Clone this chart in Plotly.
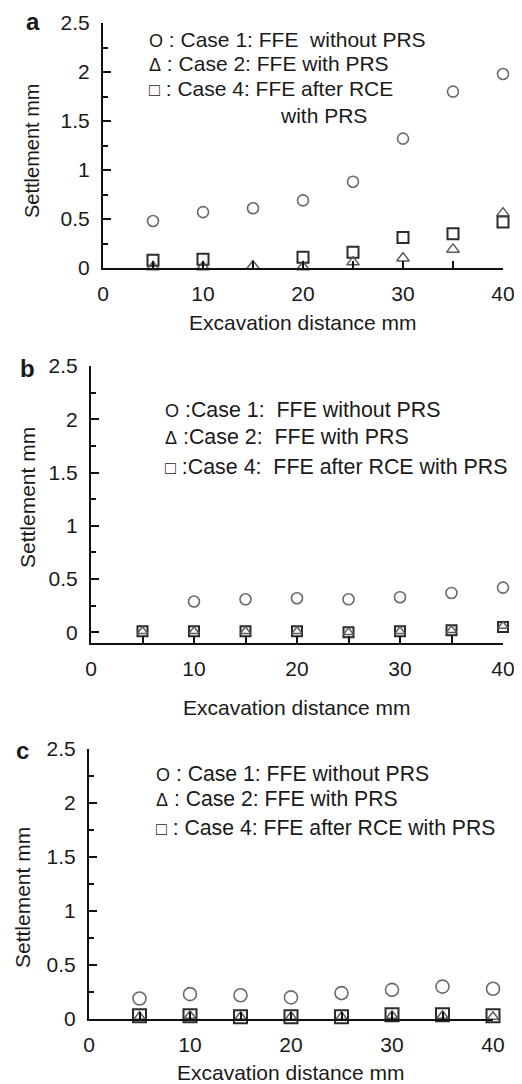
import plotly.graph_objects as go

# page body has an 8px default margin; the figure is sized and laid out so that
# page pixel coordinates match the reference picture
OFF = 8
W, H = 522 - OFF, 1084 - OFF

# ---------------- data ----------------
distance = [5, 10, 15, 20, 25, 30, 35, 40]

# panel a
a_case1 = [0.48, 0.57, 0.61, 0.69, 0.88, 1.32, 1.80, 1.98]
a_case2 = [0.01, 0.01, 0.02, 0.01, 0.06, 0.10, 0.19, 0.56]
a_case4_x = [5, 10, 20, 25, 30, 35, 40]
a_case4 = [0.08, 0.09, 0.11, 0.16, 0.31, 0.35, 0.47]

# panel b
b_case1_x = [10, 15, 20, 25, 30, 35, 40]
b_case1 = [0.29, 0.31, 0.32, 0.31, 0.33, 0.37, 0.42]
b_case2 = [0.01, 0.01, 0.01, 0.01, 0.00, 0.01, 0.02, 0.06]
b_case4 = [0.01, 0.01, 0.01, 0.01, 0.00, 0.01, 0.02, 0.05]

# panel c
c_case1 = [0.19, 0.23, 0.22, 0.20, 0.24, 0.27, 0.30, 0.28]
c_case2 = [0.02, 0.03, 0.02, 0.02, 0.02, 0.03, 0.03, 0.02]
c_case4 = [0.03, 0.03, 0.02, 0.02, 0.02, 0.04, 0.04, 0.03]

x_ticks = [0, 10, 20, 30, 40]
y_ticks = [0, 0.5, 1, 1.5, 2, 2.5]
y_ticktext = ["0", "0.5", "1", "1.5", "2", "2.5"]

x_title = "Excavation distance mm"
y_title = "Settlement mm"

# ---------------- helpers ----------------
def px(x):
    return (x - OFF) / W

def py(y):
    return 1 - (y - OFF) / H

FONT = "Liberation Sans, Arial, sans-serif"
TXT = "#1a1a1a"
AX = "#111111"

fig = go.Figure()

panels = [
    dict(s="", x0=103, x1=503, yb=268, yt=23, yr=[0, 2.5], cs=11, ss=11, ts=11),
    dict(s="2", x0=91, x1=503, yb=643, yt=366, yr=[-0.1, 2.5], cs=11, ss=10, ts=9),
    dict(s="3", x0=89, x1=493, yb=1019, yt=749, yr=[0, 2.5], cs=13, ss=13, ts=10),
]

data_sets = [
    dict(c1x=distance, c1=a_case1, c2x=distance, c2=a_case2, c4x=a_case4_x, c4=a_case4),
    dict(c1x=b_case1_x, c1=b_case1, c2x=distance, c2=b_case2, c4x=distance, c4=b_case4),
    dict(c1x=distance, c1=c_case1, c2x=distance, c2=c_case2, c4x=distance, c4=c_case4),
]

for p, d in zip(panels, data_sets):
    xa = "x" + p["s"]
    ya = "y" + p["s"]
    fig.add_trace(go.Scatter(
        x=d["c4x"], y=d["c4"], mode="markers", xaxis=xa, yaxis=ya, cliponaxis=False,
        marker=dict(symbol="square-open", size=p["ss"], color="#2b2b2b", line=dict(width=2, color="#2b2b2b")),
        showlegend=False, hoverinfo="skip"))
    fig.add_trace(go.Scatter(
        x=d["c2x"], y=d["c2"], mode="markers", xaxis=xa, yaxis=ya, cliponaxis=False,
        marker=dict(symbol="triangle-up-open", size=p["ts"], color="#5a5a5a", line=dict(width=1.5, color="#5a5a5a")),
        showlegend=False, hoverinfo="skip"))
    fig.add_trace(go.Scatter(
        x=d["c1x"], y=d["c1"], mode="markers", xaxis=xa, yaxis=ya, cliponaxis=False,
        marker=dict(symbol="circle-open", size=p["cs"], color="#6a6a6a", line=dict(width=1.6, color="#6a6a6a")),
        showlegend=False, hoverinfo="skip"))

layout = dict(
    width=W, height=H,
    margin=dict(l=0, r=0, t=0, b=0, autoexpand=False),
    paper_bgcolor="white", plot_bgcolor="white",
    font=dict(family=FONT, size=21, color=TXT),
    showlegend=False,
)

for p in panels:
    xk = "xaxis" + p["s"]
    yk = "yaxis" + p["s"]
    layout[xk] = dict(
        domain=[px(p["x0"]), px(p["x1"])], range=[0, 40], anchor="y" + p["s"],
        automargin=False,
        tickmode="array", tickvals=x_ticks, ticktext=[str(v) for v in x_ticks],
        ticks="inside", ticklen=7, tickwidth=2, tickcolor=AX,
        minor=dict(tickmode="array", tickvals=[5, 15, 25, 35], ticks="inside", ticklen=7, tickwidth=2, tickcolor=AX, showgrid=False),
        showline=True, linecolor=AX, linewidth=2, showgrid=False, zeroline=False,
        tickfont=dict(size=21, color=TXT), ticklabelstandoff=6,
    )
    layout[yk] = dict(
        domain=[py(p["yb"]), py(p["yt"])], range=p["yr"], anchor="x" + p["s"],
        automargin=False,
        tickmode="array", tickvals=y_ticks, ticktext=y_ticktext,
        ticks="inside", ticklen=8, tickwidth=2, tickcolor=AX,
        minor=dict(tickmode="array", tickvals=[0.25, 0.75, 1.25, 1.75, 2.25], ticks="inside", ticklen=5, tickwidth=2, tickcolor=AX, showgrid=False),
        showline=True, linecolor=AX, linewidth=2, showgrid=False, zeroline=False,
        tickfont=dict(size=21, color=TXT), ticklabelstandoff=7,
    )

fig.update_layout(**layout)

ann = []

def text(x, y, s, size=21, xanchor="left", textangle=0, bold=False):
    ann.append(dict(
        x=px(x), y=py(y), xref="paper", yref="paper", text=("<b>%s</b>" % s) if bold else s,
        showarrow=False, xanchor=xanchor, yanchor="middle", textangle=textangle,
        font=dict(family=FONT, size=size, color=TXT)))

def sym(ch):
    return '<span style="font-size:18px">%s</span>' % ch

NB = "\u00a0"

# panel letters
text(33, 22, "a", size=24, xanchor="center", bold=True)
text(27, 369, "b", size=24, xanchor="center", bold=True)
text(22, 750, "c", size=24, xanchor="center", bold=True)

# axis titles
text(303, 323, x_title, xanchor="center")
text(297, 707, x_title, xanchor="center")
text(291, 1072, x_title, xanchor="center")
text(32, 151, y_title, size=20, xanchor="center", textangle=-90)
text(27, 498, y_title, xanchor="center", textangle=-90)
text(22, 898, y_title, xanchor="center", textangle=-90)

# legend texts panel a
text(147, 40, sym("O") + " : Case 1: FFE" + NB + NB + "without PRS")
text(147, 64, sym("Δ") + " : Case 2: FFE with PRS")
text(147, 89, sym("□") + " : Case 4: FFE after RCE")
text(278, 115, "with PRS")

# legend texts panel b
text(163, 410, sym("O") + " :Case 1:" + NB + NB + "FFE without PRS", size=21.4)
text(163, 437, sym("Δ") + " :Case 2:" + NB + NB + "FFE with PRS", size=21.4)
text(163, 467, sym("□") + " :Case 4:" + NB + NB + "FFE after RCE with PRS", size=21.4)

# legend texts panel c
text(154, 773, sym("O") + " : Case 1: FFE without PRS", size=21.2)
text(154, 798, sym("Δ") + " : Case 2: FFE with PRS", size=21.2)
text(154, 827, sym("□") + " : Case 4: FFE after RCE with PRS", size=21.2)

fig.update_layout(annotations=ann)

fig.write_html("out.html")
